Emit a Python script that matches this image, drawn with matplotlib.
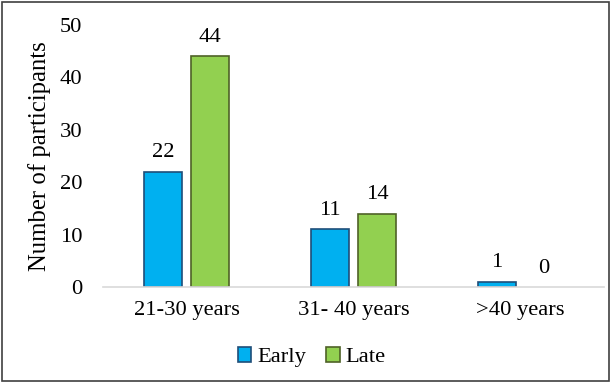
import matplotlib.pyplot as plt
import numpy as np
from matplotlib.patches import Rectangle

plt.rcParams["font.family"] = ["Liberation Serif", "DejaVu Serif"]

categories = ["21-30 years", "31- 40 years", ">40 years"]
early = [22, 11, 1]
late = [44, 14, 0]
yticks = [0, 10, 20, 30, 40, 50]

fs = 16.2

fig = plt.figure(figsize=(6.11, 3.83), dpi=100)
ax = fig.add_axes([0.1686, 0.2507, 0.82, 0.684])

x = np.arange(len(categories))
w = 0.228
off = 0.141
b1 = ax.bar(x - off, early, w, color="#00B0F0", edgecolor="#1F4E79", linewidth=1.2, label="Early")
b2 = ax.bar(x + off, late, w, color="#92D050", edgecolor="#4F6228", linewidth=1.2, label="Late")

for bars, vals in ((b1, early), (b2, late)):
    for rect, v in zip(bars, vals):
        if v == 0:
            rect.set_edgecolor("none")
        ax.text(rect.get_x() + rect.get_width() / 2, v + 1.8, str(v),
                ha="center", va="bottom", fontsize=fs)

ax.set_xlim(-0.5, 2.5)
ax.set_ylim(0, 50)
ax.set_yticks(yticks)
ax.set_xticks(x)
ax.set_xticklabels(categories)
ax.tick_params(axis="both", length=0, labelsize=fs)
ax.tick_params(axis="y", pad=15)
ax.tick_params(axis="x", pad=10)
for s in ("left", "right", "top"):
    ax.spines[s].set_visible(False)
ax.spines["bottom"].set_color("#D9D9D9")
ax.spines["bottom"].set_linewidth(1.2)
ax.set_ylabel("Number of participants", fontsize=17.8, labelpad=6)

ax.legend(loc="center", ncol=2, frameon=False, fontsize=fs, handlelength=0.6, handleheight=0.6,
          handletextpad=0.25, columnspacing=0.9)
ax.get_legend().set_bbox_to_anchor((0.26, 0.067, 0.5, 0), transform=fig.transFigure)

fig.patches.append(Rectangle((0.004, 0.006), 0.993, 0.988, transform=fig.transFigure,
                             fill=False, edgecolor="#404040", linewidth=1.2))

fig.savefig("out.png", dpi=100)
